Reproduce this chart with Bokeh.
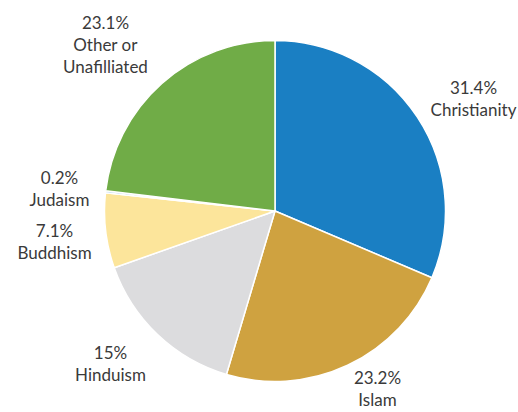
import math
from bokeh.plotting import figure
from bokeh.models import ColumnDataSource, Range1d
from bokeh.core.properties import value
from bokeh.embed import file_html
from bokeh.resources import INLINE

# ---- data ----
religions = ["Christianity", "Islam", "Hinduism", "Buddhism", "Judaism", "Other or\nUnafilliated"]
shares = [31.4, 23.2, 15, 7.1, 0.2, 23.1]
pct_labels = ["31.4%", "23.2%", "15%", "7.1%", "0.2%", "23.1%"]

# ---- styling / layout ----
colors = ["#1a7fc3", "#cfa240", "#dcdcde", "#fce59b", "#9fc6e8", "#70ac47"]
W, H = 518, 412
cx, cy, R = 274.5, 210.5, 170.5          # pixel coords of pie centre / radius
label_pos = [(473, 98), (377, 388), (110, 363), (54, 241), (59, 188), (105, 44)]  # pixel centres

total = sum(shares)
starts, ends = [], []
acc = 0.0
for s in shares:
    starts.append(math.pi / 2 - 2 * math.pi * acc / total)
    acc += s
    ends.append(math.pi / 2 - 2 * math.pi * acc / total)

wsrc = ColumnDataSource(dict(start=starts, end=ends, color=colors, name=religions))

texts = [f"{p}\n{r}" for p, r in zip(pct_labels, religions)]
tsrc = ColumnDataSource(dict(
    x=[lx for lx, ly in label_pos],
    y=[H - ly for lx, ly in label_pos],
    text=texts,
))

p = figure(width=W, height=H, output_backend="svg", toolbar_location=None,
           x_range=Range1d(0, W), y_range=Range1d(0, H), min_border=0)
p.axis.visible = False
p.grid.visible = False
p.outline_line_color = None
p.background_fill_color = "white"
p.border_fill_color = "white"

p.wedge(x=cx, y=H - cy, radius=R, start_angle="start", end_angle="end",
        direction="clock", fill_color="color", line_color="white", line_width=1.5,
        source=wsrc)

p.text(x="x", y="y", text="text", source=tsrc, text_align="center",
       text_baseline="middle", text_font=value("Lato"), text_font_size="17px",
       text_color="#3a3a3a", text_line_height=1.05)

open("out.html", "w").write(file_html(p, INLINE))
